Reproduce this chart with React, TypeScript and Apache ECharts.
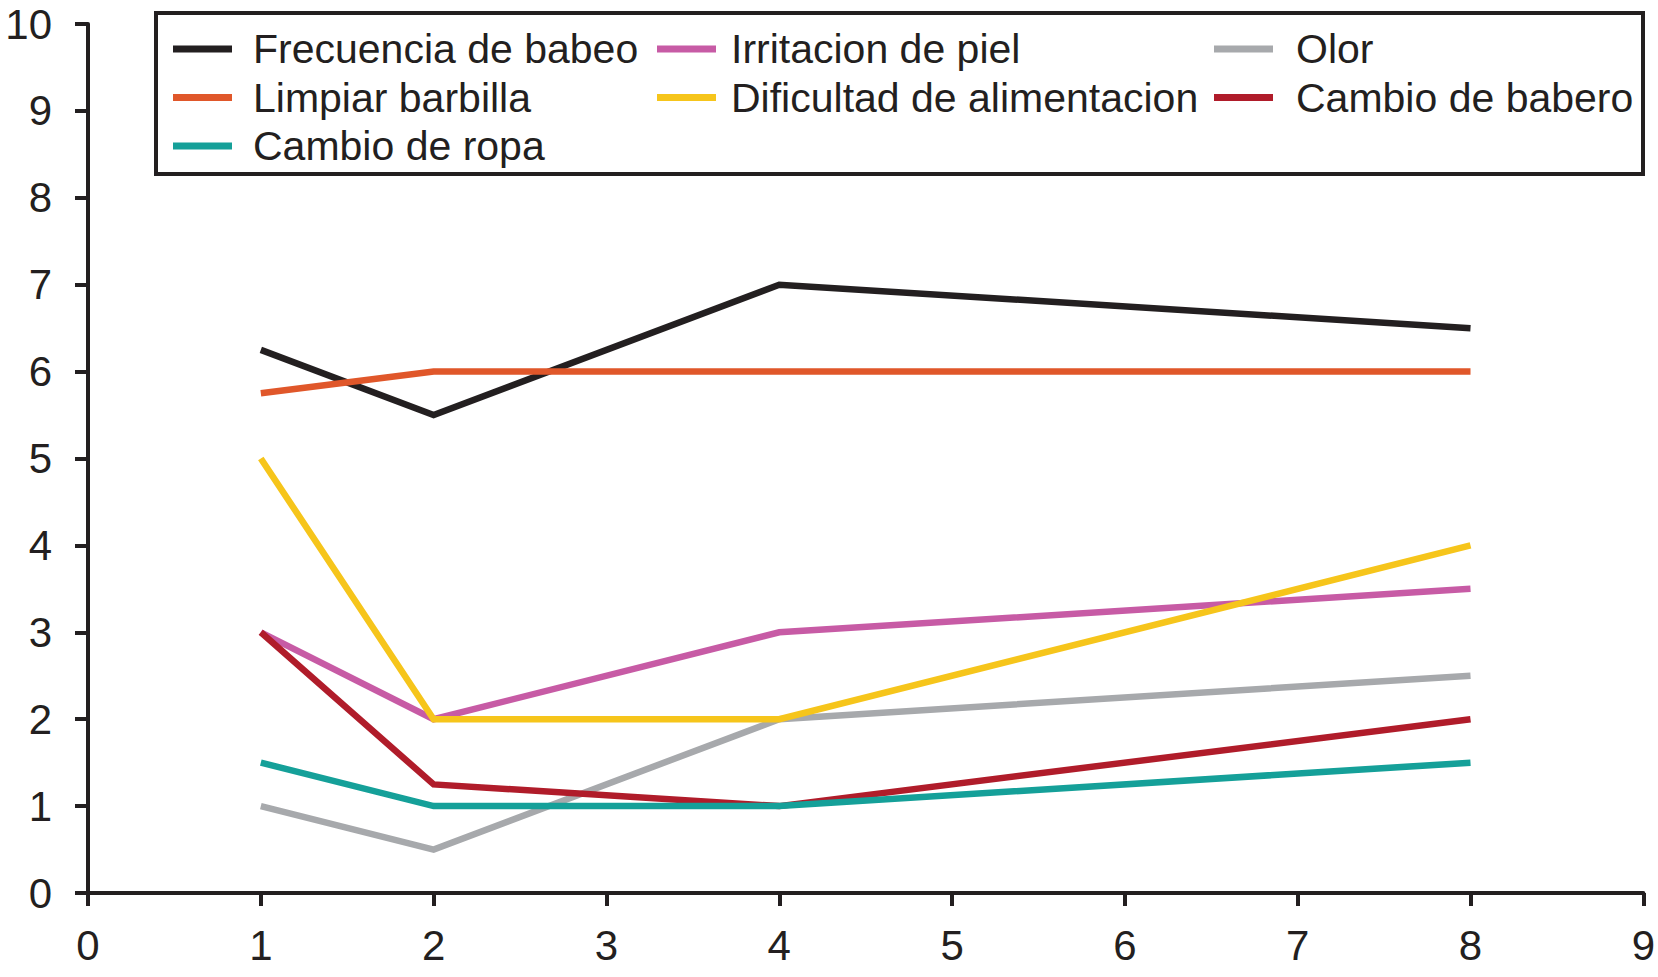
import React, { useEffect, useRef } from "react";
import * as echarts from "echarts";

const xValues = [1, 2, 4, 8];
const frecuenciaBabeo = [6.25, 5.5, 7, 6.5];
const irritacionPiel = [3, 2, 3, 3.5];
const olor = [1, 0.5, 2, 2.5];
const limpiarBarbilla = [5.75, 6, 6, 6];
const dificultadAlimentacion = [5, 2, 2, 4];
const cambioBabero = [3, 1.25, 1, 2];
const cambioRopa = [1.5, 1, 1, 1.5];

const seriesNames = [
  "Frecuencia de babeo",
  "Irritacion de piel",
  "Olor",
  "Limpiar barbilla",
  "Dificultad de alimentacion",
  "Cambio de babero",
  "Cambio de ropa",
];
const seriesValues = [
  frecuenciaBabeo,
  irritacionPiel,
  olor,
  limpiarBarbilla,
  dificultadAlimentacion,
  cambioBabero,
  cambioRopa,
];
const seriesColors = [
  "#231f20",
  "#c75ba5",
  "#a7a9ac",
  "#e0572a",
  "#f6c51b",
  "#b01c2a",
  "#15a099",
];

const legendColumns = [
  ["Frecuencia de babeo", "Limpiar barbilla", "Cambio de ropa"],
  ["Irritacion de piel", "Dificultad de alimentacion"],
  ["Olor", "Cambio de babero"],
];
const legendLefts = [173, 657, 1214];
const legendTextGaps = [16, 10, 18];

const FONT = '"Liberation Sans", Arial, Helvetica, sans-serif';
const INK = "#231f20";

export default function App() {
  const ref = useRef<HTMLDivElement>(null);
  useEffect(() => {
    if (!ref.current) return;
    const chart = echarts.init(ref.current, undefined, { renderer: "svg" });
    const option: any = {
      animation: false,
      backgroundColor: "#ffffff",
      textStyle: { fontFamily: FONT },
      grid: { left: 88, right: 14, top: 24, bottom: 84, containLabel: false },
      xAxis: {
        type: "value",
        min: 0,
        max: 9,
        interval: 1,
        splitLine: { show: false },
        axisLine: { show: true, lineStyle: { color: INK, width: 4 } },
        axisTick: { show: true, length: 13, lineStyle: { color: INK, width: 4 } },
        axisLabel: { color: INK, fontSize: 42, fontFamily: FONT, margin: 31 },
      },
      yAxis: {
        type: "value",
        min: 0,
        max: 10,
        interval: 1,
        splitLine: { show: false },
        axisLine: { show: true, lineStyle: { color: INK, width: 4 } },
        axisTick: { show: true, length: 13, lineStyle: { color: INK, width: 4 } },
        axisLabel: { color: INK, fontSize: 42, fontFamily: FONT, margin: 36 },
      },
      legend: legendColumns.map((col, i) => ({
        data: col,
        orient: "vertical",
        left: legendLefts[i],
        top: 27,
        padding: 0,
        itemGap: 4.5,
        itemWidth: 59,
        itemHeight: 7,
        icon: "rect",
        selectedMode: false,
        textStyle: {
          color: INK,
          fontSize: 41,
          fontFamily: FONT,
          lineHeight: 44,
          padding: [0, 0, 0, legendTextGaps[i]],
        },
      })),
      graphic: [
        {
          type: "rect",
          shape: { x: 156, y: 13, width: 1487, height: 161 },
          style: { fill: "none", stroke: INK, lineWidth: 4 },
          z: 100,
          silent: true,
        },
      ],
      series: seriesNames.map((name, i) => ({
        name,
        type: "line",
        data: xValues.map((x, j) => [x, seriesValues[i][j]]),
        showSymbol: false,
        symbol: "none",
        lineStyle: { color: seriesColors[i], width: 6.5, cap: "butt", join: "miter" },
        itemStyle: { color: seriesColors[i] },
        color: seriesColors[i],
      })),
    };
    chart.setOption(option);
    return () => chart.dispose();
  }, []);
  return (
    <div
      ref={ref}
      style={{ position: "fixed", left: 0, top: 0, width: 1658, height: 977, background: "#fff" }}
    />
  );
}
